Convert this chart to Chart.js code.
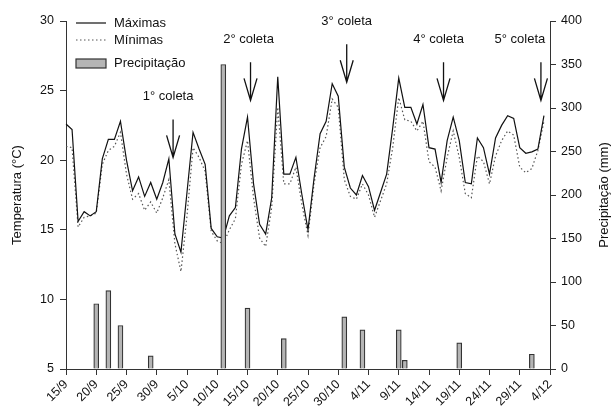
<!DOCTYPE html>
<html>
<head>
<meta charset="utf-8">
<script src="https://cdn.jsdelivr.net/npm/chart.js@4.4.1/dist/chart.umd.min.js"></script>
<style>
  html, body { margin: 0; padding: 0; background: #fff; }
  #wrap { width: 612px; height: 410px; }
</style>
</head>
<body>
<div id="wrap"><canvas id="climaChart"></canvas></div>
<script>
// dias (15/9 a 4/12)
const dias = [
  '15/9','16/9','17/9','18/9','19/9','20/9','21/9','22/9','23/9','24/9','25/9','26/9','27/9','28/9','29/9','30/9',
  '1/10','2/10','3/10','4/10','5/10','6/10','7/10','8/10','9/10','10/10','11/10','12/10','13/10','14/10','15/10',
  '16/10','17/10','18/10','19/10','20/10','21/10','22/10','23/10','24/10','25/10','26/10','27/10','28/10','29/10','30/10','31/10',
  '1/11','2/11','3/11','4/11','5/11','6/11','7/11','8/11','9/11','10/11','11/11','12/11','13/11','14/11','15/11',
  '16/11','17/11','18/11','19/11','20/11','21/11','22/11','23/11','24/11','25/11','26/11','27/11','28/11','29/11','30/11',
  '1/12','2/12','3/12','4/12'
];

// temperaturas (°C)
const tMax = [
  22.6, 22.2, 15.6, 16.3, 16.0, 16.3, 20.1, 21.5, 21.5, 22.8,
  20.0, 17.8, 18.8, 17.4, 18.4, 17.2, 18.4, 20.1, 14.7, 13.4,
  17.7, 22.0, 20.8, 19.7, 15.1, 14.5, 14.4, 16.0, 16.6, 20.8,
  23.1, 18.3, 15.4, 14.7, 17.3, 26.0, 19.0, 19.0, 20.2, 17.5,
  15.0, 18.7, 21.9, 22.8, 25.5, 24.6, 19.5, 18.0, 17.5, 18.9,
  18.1, 16.4, 17.7, 19.0, 22.3, 25.9, 23.8, 23.8, 22.6, 24.0,
  20.9, 20.8, 18.4, 21.4, 23.1, 21.4, 18.4, 18.3, 21.6, 20.9,
  19.0, 21.6, 22.5, 23.2, 23.0, 20.9, 20.5, 20.6, 20.8, 23.2
];
const tMin = [
  21.0, 20.9, 15.2, 15.9, 16.0, 16.2, 19.7, 20.7, 21.0, 22.0,
  19.0, 17.2, 17.6, 16.4, 17.0, 16.2, 17.3, 18.6, 14.0, 12.0,
  16.0, 20.9, 20.2, 19.2, 14.9, 14.2, 14.0, 15.0, 15.8, 19.7,
  21.4, 17.3, 14.4, 13.8, 16.6, 23.8, 18.3, 18.3, 19.5, 16.8,
  14.6, 18.3, 20.9, 21.7, 24.4, 23.8, 18.6, 17.4, 17.2, 18.3,
  17.5, 15.9, 17.1, 18.3, 20.9, 24.5, 22.9, 22.8, 22.1, 22.8,
  19.9, 19.5, 17.8, 20.2, 22.1, 20.2, 17.6, 17.3, 20.3, 19.9,
  18.3, 20.3, 21.4, 22.1, 21.8, 19.5, 19.1, 19.4, 20.7, 22.8
];

// precipitação (mm)
const chuvaDias = ['20/9','22/9','24/9','29/9','11/10','15/10','21/10','31/10','3/11','9/11','10/11','19/11','1/12'];
const chuvaMm   = [75, 90, 50, 15, 350, 70, 35, 60, 45, 45, 10, 30, 17];

// coletas: dia (índice) e ponta da seta (°C)
const coletas   = ['1° coleta', '2° coleta', '3° coleta', '4° coleta', '5° coleta'];
const coletaDia = [17.7, 30.5, 46.4, 62.4, 78.5];
const coletaTip = [20.2, 24.3, 25.6, 24.3, 24.3];

const chuva = dias.map(d => {
  const i = chuvaDias.indexOf(d);
  return i >= 0 ? chuvaMm[i] : null;
});

const FONT = '"Liberation Sans", Arial, sans-serif';
Chart.defaults.font.family = FONT;
Chart.defaults.color = '#111';

const extras = {
  id: 'extras',
  afterDraw(chart) {
    const { ctx, chartArea, scales: { x, yTemp } } = chart;
    ctx.save();
    ctx.font = '13px ' + FONT;
    ctx.fillStyle = '#111';
    ctx.textBaseline = 'middle';

    // legenda
    ctx.strokeStyle = '#111';
    ctx.lineWidth = 1.2;
    ctx.beginPath(); ctx.moveTo(76, 23); ctx.lineTo(106, 23); ctx.stroke();
    ctx.strokeStyle = '#555';
    ctx.setLineDash([1.5, 2.5]);
    ctx.beginPath(); ctx.moveTo(76, 40); ctx.lineTo(106, 40); ctx.stroke();
    ctx.setLineDash([]);
    ctx.fillStyle = '#b5b5b5';
    ctx.fillRect(76, 59, 30, 9);
    ctx.strokeStyle = '#333';
    ctx.lineWidth = 1.2;
    ctx.strokeRect(76, 59, 30, 9);
    ctx.fillStyle = '#111';
    ctx.textAlign = 'left';
    ctx.fillText('Máximas', 114, 23);
    ctx.fillText('Mínimas', 114, 40);
    ctx.fillText('Precipitação', 114, 63);

    // setas das coletas
    const dx = [-5, -2, 0, -5, -21];
    ctx.strokeStyle = '#111';
    ctx.lineWidth = 1.3;
    ctx.textAlign = 'center';
    coletas.forEach((txt, i) => {
      const px = x.getPixelForValue(coletaDia[i]);
      const tip = yTemp.getPixelForValue(coletaTip[i]);
      const top = tip - 38;
      ctx.beginPath();
      ctx.moveTo(px, top); ctx.lineTo(px, tip);
      ctx.moveTo(px - 6.5, tip - 22); ctx.lineTo(px, tip); ctx.lineTo(px + 6.5, tip - 22);
      ctx.stroke();
      ctx.fillText(txt, px + dx[i], top - 23);
    });

    // título do eixo direito
    ctx.translate(604, (chartArea.top + chartArea.bottom) / 2);
    ctx.rotate(-Math.PI / 2);
    ctx.fillText('Precipitação (mm)', 0, 0);
    ctx.restore();
  }
};

const axisGrid = { drawOnChartArea: false, tickLength: 6, color: '#333', lineWidth: 1 };

const ctxClima = document.getElementById('climaChart').getContext('2d');
const climaChart = new Chart(ctxClima, {
  type: 'bar',
  data: {
    labels: dias,
    datasets: [{
      type: 'bar',
      label: 'Precipitação',
      data: chuva,
      yAxisID: 'yChuva',
      backgroundColor: '#b5b5b5',
      borderColor: '#333',
      borderWidth: 1.2,
      barThickness: 5,
      order: 0
    }, {
      type: 'line',
      label: 'Máximas',
      data: tMax,
      yAxisID: 'yTemp',
      borderColor: '#111',
      borderWidth: 1.2,
      pointRadius: 0,
      tension: 0,
      order: 1
    }, {
      type: 'line',
      label: 'Mínimas',
      data: tMin,
      yAxisID: 'yTemp',
      borderColor: '#555',
      borderWidth: 1.2,
      borderDash: [1.5, 2.5],
      pointRadius: 0,
      tension: 0,
      order: 2
    }]
  },
  options: {
    responsive: true,
    maintainAspectRatio: false,
    animation: false,
    layout: { padding: { top: 21 } },
    plugins: {
      legend: { display: false },
      tooltip: { enabled: false }
    },
    scales: {
      x: {
        type: 'category',
        offset: false,
        grid: { ...axisGrid, offset: false },
        border: { color: '#333' },
        ticks: {
          autoSkip: false,
          minRotation: 45,
          maxRotation: 45,
          padding: 2,
          font: { size: 12.5 },
          callback: (v, i) => (i % 5 === 0 ? dias[i] : null)
        },
        afterFit: s => { s.height = 41; }
      },
      yTemp: {
        position: 'left',
        min: 5,
        max: 30,
        grid: axisGrid,
        border: { color: '#333' },
        ticks: { stepSize: 5, padding: 6, font: { size: 12.5 } },
        title: {
          display: true,
          text: 'Temperatura (°C)',
          font: { size: 13 },
          padding: { top: 10, bottom: 0 }
        },
        afterFit: s => { s.width = 66; }
      },
      yChuva: {
        position: 'right',
        min: 0,
        max: 400,
        grid: axisGrid,
        border: { color: '#333' },
        ticks: { stepSize: 50, padding: 5, font: { size: 12.5 } },
        afterFit: s => { s.width = 62; }
      }
    }
  },
  plugins: [extras]
});
</script>
</body>
</html>
